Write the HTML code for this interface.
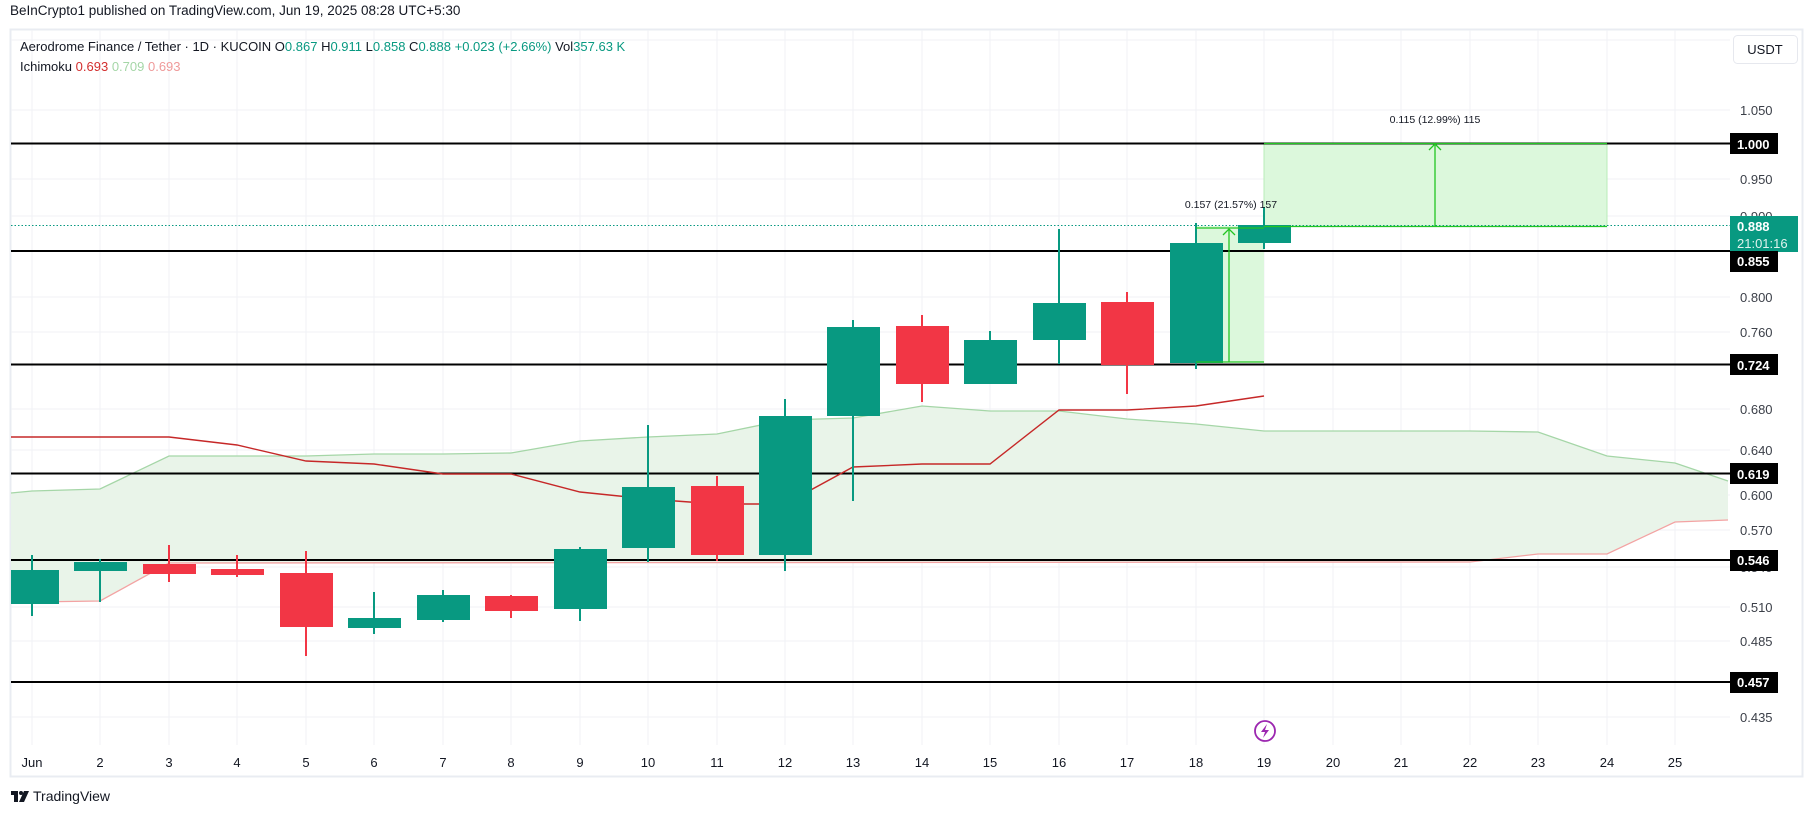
<!DOCTYPE html>
<html><head><meta charset="utf-8"><style>
html,body{margin:0;padding:0;background:#fff;}
body{width:1814px;height:816px;overflow:hidden;font-family:"Liberation Sans",sans-serif;}
</style></head><body>
<svg width="1814" height="816" viewBox="0 0 1814 816" xmlns="http://www.w3.org/2000/svg" font-family="Liberation Sans, sans-serif">
<rect x="0" y="0" width="1814" height="816" fill="#fff"/>
<text x="10" y="15" font-size="13.5" fill="#131722">BeInCrypto1 published on TradingView.com, Jun 19, 2025 08:28 UTC+5:30</text>
<rect x="10.5" y="29.5" width="1792" height="747" fill="none" stroke="#e9ecf2" stroke-width="2"/>
<!-- grid -->
<g stroke="#f0f2f6" stroke-width="1">
<line x1="11" x2="1730" y1="110" y2="110"/><line x1="11" x2="1730" y1="179" y2="179"/>
<line x1="11" x2="1730" y1="216" y2="216"/><line x1="11" x2="1730" y1="297" y2="297"/>
<line x1="11" x2="1730" y1="332" y2="332"/><line x1="11" x2="1730" y1="409" y2="409"/>
<line x1="11" x2="1730" y1="450" y2="450"/><line x1="11" x2="1730" y1="495" y2="495"/>
<line x1="11" x2="1730" y1="530" y2="530"/><line x1="11" x2="1730" y1="567" y2="567"/>
<line x1="11" x2="1730" y1="607" y2="607"/><line x1="11" x2="1730" y1="641" y2="641"/>
<line x1="11" x2="1730" y1="717" y2="717"/><line x1="11" x2="1730" y1="40" y2="40"/>
<line x1="32" x2="32" y1="30" y2="745"/><line x1="100" x2="100" y1="30" y2="745"/>
<line x1="169" x2="169" y1="30" y2="745"/><line x1="237" x2="237" y1="30" y2="745"/>
<line x1="306" x2="306" y1="30" y2="745"/><line x1="374" x2="374" y1="30" y2="745"/>
<line x1="443" x2="443" y1="30" y2="745"/><line x1="511" x2="511" y1="30" y2="745"/>
<line x1="580" x2="580" y1="30" y2="745"/><line x1="648" x2="648" y1="30" y2="745"/>
<line x1="717" x2="717" y1="30" y2="745"/><line x1="785" x2="785" y1="30" y2="745"/>
<line x1="853" x2="853" y1="30" y2="745"/><line x1="922" x2="922" y1="30" y2="745"/>
<line x1="990" x2="990" y1="30" y2="745"/><line x1="1059" x2="1059" y1="30" y2="745"/>
<line x1="1127" x2="1127" y1="30" y2="745"/><line x1="1196" x2="1196" y1="30" y2="745"/>
<line x1="1264" x2="1264" y1="30" y2="745"/><line x1="1333" x2="1333" y1="30" y2="745"/>
<line x1="1401" x2="1401" y1="30" y2="745"/><line x1="1470" x2="1470" y1="30" y2="745"/>
<line x1="1538" x2="1538" y1="30" y2="745"/><line x1="1607" x2="1607" y1="30" y2="745"/>
<line x1="1675" x2="1675" y1="30" y2="745"/>
</g>
<!-- cloud -->
<polygon fill="#e8f3e8" fill-opacity="0.95" points="11,493 32,491 100,489 169,456 237,456 306,456 374,454 443,454 511,453 580,441 648,437 717,434 785,420 853,418 922,406 990,411 1059,411 1127,419 1196,424 1264,431 1333,431 1401,431 1470,431 1538,432 1607,456 1675,463 1728,481 1728,520 1675,522 1607,554 1538,554 1470,562 169,563 100,601 32,602 11,602"/>
<polyline fill="none" stroke="#a5d6a7" stroke-width="1.3" points="11,493 32,491 100,489 169,456 237,456 306,456 374,454 443,454 511,453 580,441 648,437 717,434 785,420 853,418 922,406 990,411 1059,411 1127,419 1196,424 1264,431 1333,431 1401,431 1470,431 1538,432 1607,456 1675,463 1728,481"/>
<polyline fill="none" stroke="#f3a3a3" stroke-width="1.3" points="11,602 32,602 100,601 169,563 1470,562 1538,554 1607,554 1675,522 1728,520"/>
<!-- measure boxes -->
<rect x="1196" y="226" width="68" height="136" fill="#dcf8dc"/>
<rect x="1264" y="143" width="343" height="83" fill="#dcf8dc"/>
<line x1="1264" x2="1264" y1="143" y2="226" stroke="#b9ecb9"/>
<line x1="1607" x2="1607" y1="143" y2="226" stroke="#b9ecb9"/>
<!-- horizontal levels -->
<g stroke="#000" stroke-width="2">
<line x1="11" x2="1730" y1="143.5" y2="143.5"/>
<line x1="11" x2="1730" y1="251" y2="251"/>
<line x1="11" x2="1730" y1="364.5" y2="364.5"/>
<line x1="11" x2="1730" y1="473.5" y2="473.5"/>
<line x1="11" x2="1730" y1="560" y2="560"/>
<line x1="11" x2="1730" y1="682" y2="682"/>
</g>
<!-- red line -->
<polyline fill="none" stroke="#c62828" stroke-width="1.4" points="11,437 169,437 237,445 306,461 374,464 443,474 511,474 580,492 648,499 717,504 785,504 853,467 922,464 990,464 1059,410 1127,410 1196,406 1264,396"/>
<!-- current price line -->
<line x1="11" x2="1730" y1="225.5" y2="225.5" stroke="#089981" stroke-width="1" stroke-dasharray="1.5,2"/>
<!-- candles -->
<g>
<g fill="#089981">
<rect x="31" y="555" width="2" height="61"/><rect x="11" y="570" width="48" height="34"/>
<rect x="99" y="559" width="2" height="43"/><rect x="74" y="562" width="53" height="9"/>
<rect x="373" y="592" width="2" height="42"/><rect x="348" y="618" width="53" height="10"/>
<rect x="442" y="590" width="2" height="32"/><rect x="417" y="595" width="53" height="25"/>
<rect x="579" y="547" width="2" height="74"/><rect x="554" y="549" width="53" height="60"/>
<rect x="647" y="425" width="2" height="137"/><rect x="622" y="487" width="53" height="61"/>
<rect x="784" y="399" width="2" height="172"/><rect x="759" y="416" width="53" height="139"/>
<rect x="852" y="320" width="2" height="181"/><rect x="827" y="327" width="53" height="89"/>
<rect x="989" y="331" width="2" height="53"/><rect x="964" y="340" width="53" height="44"/>
<rect x="1058" y="229" width="2" height="135"/><rect x="1033" y="303" width="53" height="37"/>
<rect x="1195" y="223" width="2" height="146"/><rect x="1170" y="243" width="53" height="120"/>
<rect x="1263" y="207" width="2" height="42"/><rect x="1238" y="225" width="53" height="18"/>
</g>
<g fill="#f23645">
<rect x="168" y="545" width="2" height="37"/><rect x="143" y="564" width="53" height="10"/>
<rect x="236" y="555" width="2" height="22"/><rect x="211" y="569" width="53" height="6"/>
<rect x="305" y="551" width="2" height="105"/><rect x="280" y="573" width="53" height="54"/>
<rect x="510" y="595" width="2" height="23"/><rect x="485" y="596" width="53" height="15"/>
<rect x="716" y="476" width="2" height="85"/><rect x="691" y="486" width="53" height="69"/>
<rect x="921" y="315" width="2" height="87"/><rect x="896" y="326" width="53" height="58"/>
<rect x="1126" y="292" width="2" height="102"/><rect x="1101" y="302" width="53" height="63"/>
</g>
</g>
<!-- measure lines -->
<g stroke="#22c522" stroke-width="1.3" fill="none">
<line x1="1196" x2="1264" y1="228" y2="228"/><line x1="1196" x2="1264" y1="362" y2="362"/>
<line x1="1229" x2="1229" y1="362" y2="229"/><polyline points="1223,235 1229,229 1235,235"/>
<line x1="1264" x2="1607" y1="143.5" y2="143.5"/><line x1="1264" x2="1607" y1="226.5" y2="226.5"/>
<line x1="1435" x2="1435" y1="226" y2="144"/><polyline points="1429,150 1435,144 1441,150"/>
</g>
<text x="1231" y="208" font-size="10.5" fill="#131722" text-anchor="middle">0.157 (21.57%) 157</text>
<text x="1435" y="123" font-size="10.5" fill="#131722" text-anchor="middle">0.115 (12.99%) 115</text>
<!-- lightning icon -->
<circle cx="1265" cy="731" r="10" fill="#fff" stroke="#9c27b0" stroke-width="1.8"/>
<path d="M1267,724 L1261,732 L1265,732 L1263,738 L1269,730 L1265,730 Z" fill="#9c27b0"/>
<!-- header legend -->
<text x="20" y="51" font-size="13" fill="#131722">Aerodrome Finance / Tether · 1D · KUCOIN  <tspan>O</tspan><tspan fill="#089981">0.867</tspan>  H<tspan fill="#089981">0.911</tspan>  L<tspan fill="#089981">0.858</tspan>  C<tspan fill="#089981">0.888</tspan>  <tspan fill="#089981">+0.023 (+2.66%)</tspan>  Vol<tspan fill="#089981">357.63 K</tspan></text>
<text x="20" y="71" font-size="13" fill="#131722">Ichimoku  <tspan fill="#d32f2f">0.693</tspan>  <tspan fill="#a5d6a7">0.709</tspan>  <tspan fill="#ef9a9a">0.693</tspan></text>
<!-- USDT box -->
<rect x="1733.5" y="35.5" width="64" height="28" rx="4" fill="#fff" stroke="#e6e8ee"/>
<text x="1765" y="54" font-size="13" fill="#131722" text-anchor="middle">USDT</text>
<!-- price labels -->
<g font-size="13" fill="#3b3f48">
<text x="1740" y="115">1.050</text><text x="1740" y="184">0.950</text>
<text x="1740" y="302">0.800</text><text x="1740" y="337">0.760</text>
<text x="1740" y="414">0.680</text><text x="1740" y="455">0.640</text>
<text x="1740" y="500">0.600</text><text x="1740" y="535">0.570</text>
<text x="1740" y="612">0.510</text><text x="1740" y="646">0.485</text>
<text x="1740" y="722">0.435</text><text x="1740" y="221">0.900</text>
<text x="1740" y="572">0.540</text>
</g>
<g font-size="13" font-weight="bold" fill="#fff">
<rect x="1730" y="133" width="48" height="21" fill="#000"/><text x="1737" y="149">1.000</text>
<rect x="1730" y="216" width="68" height="36" fill="#089981"/><text x="1737" y="231">0.888</text><text x="1737" y="248" font-weight="normal" fill="#e0f2ee">21:01:16</text>
<rect x="1730" y="251" width="48" height="21" fill="#000"/><text x="1737" y="266">0.855</text>
<rect x="1730" y="354" width="48" height="21" fill="#000"/><text x="1737" y="370">0.724</text>
<rect x="1730" y="463" width="48" height="21" fill="#000"/><text x="1737" y="479">0.619</text>
<rect x="1730" y="550" width="48" height="21" fill="#000"/><text x="1737" y="565">0.546</text>
<rect x="1730" y="672" width="48" height="21" fill="#000"/><text x="1737" y="687">0.457</text>
</g>
<!-- time labels -->
<g font-size="13" fill="#131722" text-anchor="middle">
<text x="32" y="767">Jun</text><text x="100" y="767">2</text><text x="169" y="767">3</text><text x="237" y="767">4</text>
<text x="306" y="767">5</text><text x="374" y="767">6</text><text x="443" y="767">7</text><text x="511" y="767">8</text>
<text x="580" y="767">9</text><text x="648" y="767">10</text><text x="717" y="767">11</text><text x="785" y="767">12</text>
<text x="853" y="767">13</text><text x="922" y="767">14</text><text x="990" y="767">15</text><text x="1059" y="767">16</text>
<text x="1127" y="767">17</text><text x="1196" y="767">18</text><text x="1264" y="767">19</text><text x="1333" y="767">20</text>
<text x="1401" y="767">21</text><text x="1470" y="767">22</text><text x="1538" y="767">23</text><text x="1607" y="767">24</text>
<text x="1675" y="767">25</text>
</g>
<!-- logo -->
<g fill="#131722">
<rect x="11" y="791" width="7" height="4"/><rect x="14" y="791" width="4" height="11"/>
<circle cx="21" cy="793" r="2"/><polygon points="24,791 29,791 24,802 19,802"/>
</g>
<text x="33" y="801" font-size="14" fill="#131722">TradingView</text>
</svg>
</body></html>
